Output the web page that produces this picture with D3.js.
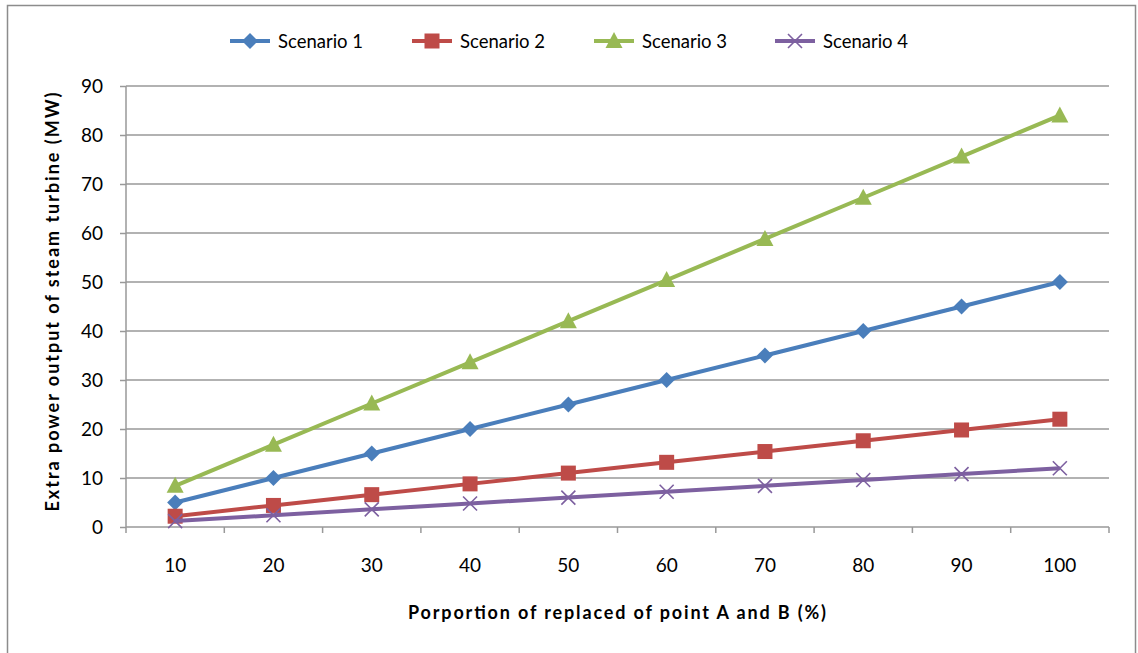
<!DOCTYPE html>
<html><head><meta charset="utf-8">
<script src="https://cdn.jsdelivr.net/npm/d3@7"></script>
<style>body{margin:0;background:#fff;} svg{display:block;font-family:Lato,"Open Sans",sans-serif;}</style>
</head><body><svg id="c" width="1138" height="653"></svg>
<script>
const categories = [10,20,30,40,50,60,70,80,90,100];
const scenario1 = [5,10,15,20,25,30,35,40,45,50];
const scenario2 = [2.2,4.4,6.6,8.8,11,13.2,15.4,17.6,19.8,22];
const scenario3 = [8.4,16.8,25.2,33.6,42,50.4,58.8,67.2,75.6,84];
const scenario4 = [1.2,2.4,3.6,4.8,6,7.2,8.4,9.6,10.8,12];
const seriesNames = ["Scenario 1","Scenario 2","Scenario 3","Scenario 4"];
const yTicks = [0,10,20,30,40,50,60,70,80,90];
const xTitle = "Porportion of replaced of point A and B (%)";
const yTitle = "Extra power output of steam turbine (MW)";

const colors = ["#4a7ebb","#be4b48","#98b954","#7d60a0"];
const markers = ["diamond","square","triangle","x"];
const series = [scenario1,scenario2,scenario3,scenario4];

const svg = d3.select("#c");
svg.append("rect").attr("x",7.5).attr("y",5.5).attr("width",1128).attr("height",660)
  .attr("fill","#fff").attr("stroke","#8c8c8c").attr("stroke-width",1.5);

const L=126, R=1109, T=86, B=527;
const x = d3.scaleBand().domain(categories).range([L,R]).padding(0);
const y = d3.scaleLinear().domain([0,90]).range([B,T]);
const gray="#999";

// gridlines
svg.append("g").selectAll("line").data(yTicks.filter(d=>d>0)).join("line")
  .attr("x1",L).attr("x2",R).attr("y1",d=>y(d)).attr("y2",d=>y(d))
  .attr("stroke",gray).attr("stroke-width",1.5);

// y axis
const ya = svg.append("g").attr("transform",`translate(${L},0)`)
  .call(d3.axisLeft(y).tickValues(yTicks).tickSize(6).tickPadding(17));
ya.select(".domain").attr("stroke",gray).attr("stroke-width",1.5).attr("d",`M0,${B}V${T}`);
ya.selectAll(".tick line").attr("stroke",gray).attr("stroke-width",1.5);
ya.selectAll(".tick text").attr("font-size",19).attr("fill","#000").attr("font-family","Lato");

// x axis
const xa = svg.append("g").attr("transform",`translate(0,${B})`)
  .call(d3.axisBottom(x).tickSize(0).tickPadding(32));
xa.select(".domain").attr("stroke",gray).attr("stroke-width",1.5).attr("d",`M${L},0H${R}`);
xa.selectAll(".tick text").attr("font-size",19).attr("fill","#000").attr("font-family","Lato");
const edges = categories.map(c=>x(c)).concat([x(categories[categories.length-1])+x.bandwidth()]);
svg.append("g").selectAll("line").data(edges).join("line")
  .attr("x1",d=>d).attr("x2",d=>d).attr("y1",B).attr("y2",B+6)
  .attr("stroke",gray).attr("stroke-width",1.5);

function drawMarker(g, type, color, cx, cy){
  if(type==="diamond"){
    g.append("path").attr("d",`M${cx},${cy-8}L${cx+8},${cy}L${cx},${cy+8}L${cx-8},${cy}Z`).attr("fill",color);
  } else if(type==="square"){
    g.append("rect").attr("x",cx-7.5).attr("y",cy-7.5).attr("width",15).attr("height",15).attr("fill",color);
  } else if(type==="triangle"){
    g.append("path").attr("d",`M${cx},${cy-9}L${cx+8.5},${cy+7}L${cx-8.5},${cy+7}Z`).attr("fill",color);
  } else {
    g.append("path").attr("d",`M${cx-7},${cy-7}L${cx+7},${cy+7}M${cx-7},${cy+7}L${cx+7},${cy-7}`)
      .attr("stroke",color).attr("stroke-width",1.6).attr("fill","none");
  }
}

const line = d3.line().x((d,i)=>x(categories[i])+x.bandwidth()/2).y(d=>y(d));
series.forEach((s,k)=>{
  const g = svg.append("g");
  g.append("path").datum(s).attr("d",line).attr("fill","none").attr("stroke",colors[k])
    .attr("stroke-width",4).attr("stroke-linejoin","round");
  s.forEach((v,i)=>drawMarker(g,markers[k],colors[k],x(categories[i])+x.bandwidth()/2,y(v)));
});

// legend
const legX = [250,432,614,795], legY = 41;
seriesNames.forEach((n,k)=>{
  const g = svg.append("g");
  g.append("line").attr("x1",legX[k]-20).attr("x2",legX[k]+20).attr("y1",legY).attr("y2",legY)
    .attr("stroke",colors[k]).attr("stroke-width",4);
  drawMarker(g,markers[k],colors[k],legX[k],legY);
  g.append("text").attr("x",legX[k]+28).attr("y",legY).attr("dy","0.36em")
    .attr("font-size",18.5).attr("fill","#000").text(n);
});

// axis titles
svg.append("text").attr("x",617).attr("y",619).attr("text-anchor","middle")
  .attr("font-size",18).attr("font-weight","bold").attr("fill","#000")
  .attr("textLength",418).attr("lengthAdjust","spacing").text(xTitle);
svg.append("text").attr("transform",`translate(59,302) rotate(-90)`).attr("text-anchor","middle")
  .attr("font-size",18).attr("font-weight","bold").attr("fill","#000")
  .attr("textLength",419).attr("lengthAdjust","spacing").text(yTitle);
</script></body></html>
